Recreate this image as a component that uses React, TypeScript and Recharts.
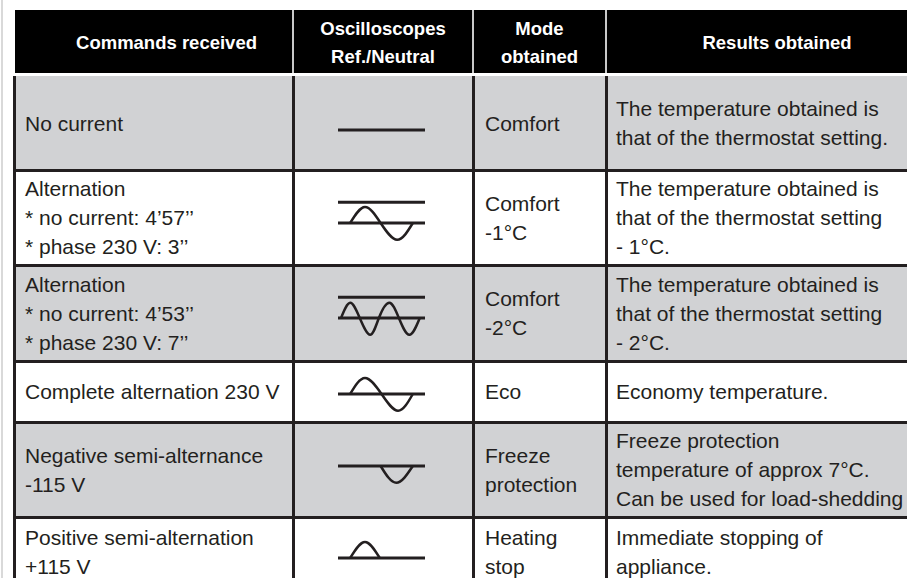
import { LineChart, Line, XAxis, YAxis } from 'recharts'

type Pt = { t: number; v: number }

const INK = '#231f20'
const SHADE = '#d1d2d4'

const headers = [
  ['Commands received'],
  ['Oscilloscopes', 'Ref./Neutral'],
  ['Mode', 'obtained'],
  ['Results obtained'],
]

const commands = [
  ['No current'],
  ['Alternation', '* no current: 4’57’’', '* phase 230 V: 3’’'],
  ['Alternation', '* no current: 4’53’’', '* phase 230 V: 7’’'],
  ['Complete alternation 230 V'],
  ['Negative semi-alternance', '-115 V'],
  ['Positive semi-alternation', '+115 V'],
]

const modes = [
  ['Comfort'],
  ['Comfort', '-1°C'],
  ['Comfort', '-2°C'],
  ['Eco'],
  ['Freeze', 'protection'],
  ['Heating', 'stop'],
]

const results = [
  ['The temperature obtained is', 'that of the thermostat setting.'],
  ['The temperature obtained is', 'that of the thermostat setting', '- 1°C.'],
  ['The temperature obtained is', 'that of the thermostat setting', '- 2°C.'],
  ['Economy temperature.'],
  ['Freeze protection', 'temperature of approx 7°C.', 'Can be used for load-shedding'],
  ['Immediate stopping of', 'appliance.'],
]

// scope traces: t = % along the trace, v = amplitude (peaks and zero crossings)
const refLine: Pt[] = [{ t: 0, v: 0 }, { t: 100, v: 0 }]
const phaseLine: Pt[] = [{ t: 0, v: 1.3 }, { t: 100, v: 1.3 }]
const waveComfort1: Pt[] = [
  { t: 14, v: 0 }, { t: 31, v: 1 }, { t: 49, v: 0 }, { t: 68, v: -1.05 }, { t: 86, v: 0 },
]
const waveComfort2: Pt[] = [
  { t: 3.5, v: 0 }, { t: 14, v: 0.95 }, { t: 25, v: 0 }, { t: 37, v: -1.05 }, { t: 47, v: 0 },
  { t: 59, v: 0.95 }, { t: 70, v: 0 }, { t: 82, v: -1.05 }, { t: 94, v: 0 },
]
const waveEco: Pt[] = [
  { t: 14, v: 0 }, { t: 31, v: 1 }, { t: 50, v: 0 }, { t: 69, v: -1.05 }, { t: 86, v: 0 },
]
const waveFreeze: Pt[] = [{ t: 49, v: 0 }, { t: 67, v: -1.05 }, { t: 86, v: 0 }]
const waveStop: Pt[] = [{ t: 14, v: 0 }, { t: 31, v: 1 }, { t: 48, v: 0 }]

const waves: Pt[][] = [[], waveComfort1, waveComfort2, waveEco, waveFreeze, waveStop]
const hasPhase = [false, true, true, false, false, false]

// layout
const colX = [14, 293, 473, 606, 948]
const rowY = [76, 170, 265, 361, 422, 517, 587]
const shaded = [true, false, true, false, true, false]
const scopeBase = [54, 53, 53, 33, 44, 41]
const textPad = [11, 0, 12, 10]

function Scope({ wave, phase }: { wave: Pt[]; phase: boolean }) {
  return (
    <LineChart width={91} height={64} margin={{ top: 0, right: 2, bottom: 0, left: 2 }}>
      <XAxis type="number" dataKey="t" domain={[0, 100]} hide />
      <YAxis type="number" dataKey="v" domain={[-2, 2]} hide />
      <Line data={refLine} dataKey="v" stroke={INK} strokeWidth={3} dot={false} activeDot={false} isAnimationActive={false} />
      {phase && (
        <Line data={phaseLine} dataKey="v" stroke={INK} strokeWidth={3} dot={false} activeDot={false} isAnimationActive={false} />
      )}
      {wave.length > 0 && (
        <Line data={wave} type="natural" dataKey="v" stroke={INK} strokeWidth={2.5} dot={false} activeDot={false} isAnimationActive={false} />
      )}
    </LineChart>
  )
}

function Lines({ lines }: { lines: string[] }) {
  return <div>{lines.map((l, i) => <div key={i}>{l}</div>)}</div>
}

export default function App() {
  const bodyTop = rowY[0]
  const bodyBottom = rowY[rowY.length - 1]
  const cols = [commands, null, modes, results]

  return (
    <div style={{
      position: 'fixed', left: 0, top: 0, width: 907, height: 578, overflow: 'hidden',
      background: '#fff', fontFamily: '"Liberation Sans", Arial, sans-serif', color: INK,
    }}>
      <div style={{ position: 'absolute', left: 1, top: 0, width: 2, height: 578, background: '#d9d9d9' }} />

      {/* header */}
      <div style={{ position: 'absolute', left: 15, top: 10, width: colX[4] - 15, height: 63, background: '#000' }} />
      {headers.map((h, c) => (
        <div key={'h' + c} style={{
          position: 'absolute', left: colX[c], top: 10, width: colX[c + 1] - colX[c], height: 63,
          display: 'flex', alignItems: 'center', justifyContent: 'center', boxSizing: 'border-box',
          paddingLeft: c === 0 ? 26 : 0, paddingTop: 3,
          color: '#fff', fontWeight: 700, fontSize: 18.5, lineHeight: '28px', textAlign: 'center', whiteSpace: 'nowrap',
        }}>
          <Lines lines={h} />
        </div>
      ))}
      {[1, 2, 3].map((c) => (
        <div key={'hd' + c} style={{ position: 'absolute', left: colX[c] - 1, top: 10, width: 2, height: 63, background: '#c9c9c9' }} />
      ))}

      {/* body rows */}
      {commands.map((_, r) => (
        <div key={'bg' + r} style={{
          position: 'absolute', left: colX[0], top: rowY[r], width: colX[4] - colX[0], height: rowY[r + 1] - rowY[r],
          background: shaded[r] ? SHADE : '#fff',
        }} />
      ))}

      {commands.map((_, r) =>
        cols.map((col, c) =>
          col ? (
            <div key={'t' + r + '-' + c} style={{
              position: 'absolute', left: colX[c] + textPad[c], top: rowY[r], height: rowY[r + 1] - rowY[r],
              display: 'flex', alignItems: 'center', fontSize: 21, lineHeight: '29px', whiteSpace: 'nowrap',
            }}>
              <Lines lines={col[r]} />
            </div>
          ) : null,
        ),
      )}

      {waves.map((w, r) => (
        <div key={'s' + r} style={{ position: 'absolute', left: colX[1] + 43, top: rowY[r] + scopeBase[r] - 32 }}>
          <Scope wave={w} phase={hasPhase[r]} />
        </div>
      ))}

      {/* grid lines */}
      {rowY.slice(1, -1).map((y, i) => (
        <div key={'hl' + i} style={{ position: 'absolute', left: colX[0] - 1.5, top: y - 1.5, width: colX[4], height: 3, background: INK }} />
      ))}
      {colX.slice(0, 4).map((x, i) => (
        <div key={'vl' + i} style={{ position: 'absolute', left: x - 1.5, top: bodyTop, width: 3, height: bodyBottom - bodyTop, background: INK }} />
      ))}
    </div>
  )
}
